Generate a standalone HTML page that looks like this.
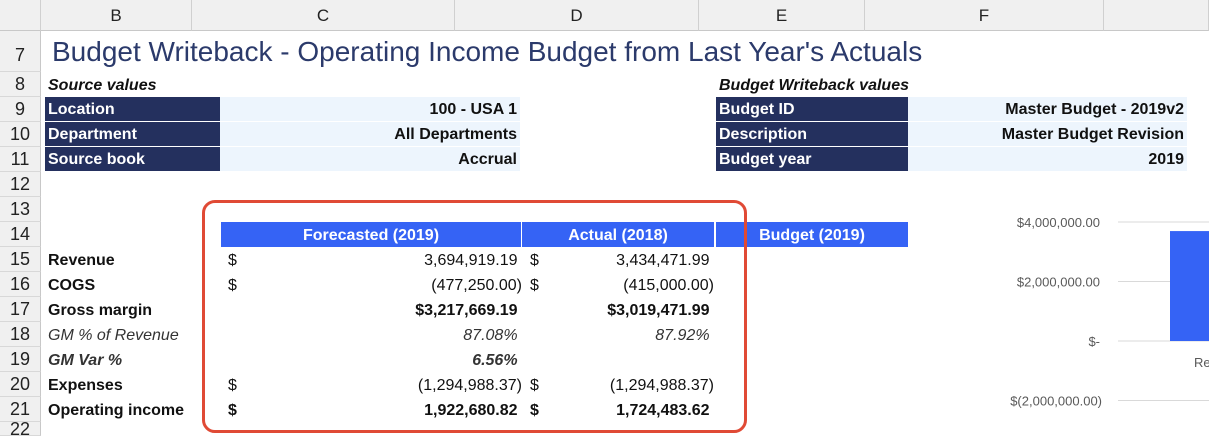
<!DOCTYPE html>
<html><head><meta charset="utf-8"><style>
body{margin:0;width:1209px;height:436px;overflow:hidden;background:#fff;font-family:"Liberation Sans",sans-serif;position:relative}
div,span{position:absolute;box-sizing:border-box}
.colh{top:0;height:31px;background:#f0f0f0;border-right:1px solid #d0d0d0;border-bottom:1px solid #c8c8c8;text-align:center;font-size:17px;line-height:31px;color:#222}
.rowh{left:0;width:41px;background:#f0f0f0;border-bottom:1px solid #d8d8d8;border-right:1px solid #c8c8c8;text-align:center;font-size:18px;color:#222}
.t{font-size:16px;color:#111;white-space:nowrap;line-height:28px;height:25px;overflow:visible}
.b{font-weight:bold}
.nav{background:#24305e;color:#fff;font-weight:bold;padding-left:3px;line-height:25px}
.lb{background:#edf5fd;font-weight:bold;text-align:right;padding-right:3px;line-height:25px}
.r{text-align:right}
.hd{background:#3563f5;color:#fff;font-weight:bold;text-align:center;font-size:16px;line-height:27px;height:25px;top:222px}
</style></head><body>
<div class="colh" style="left:0;width:41px"></div>
<div class="colh" style="left:41px;width:151px">B</div>
<div class="colh" style="left:192px;width:263px">C</div>
<div class="colh" style="left:455px;width:244px">D</div>
<div class="colh" style="left:699px;width:166px">E</div>
<div class="colh" style="left:865px;width:239px">F</div>
<div class="colh" style="left:1104px;width:105px"></div>
<div id="rows"></div>
<div style="left:52px;top:36px;font-size:28px;color:#2b3a6b;white-space:nowrap">Budget Writeback - Operating Income Budget from Last Year's Actuals</div>
<div class="t b" style="left:48px;top:72px;font-style:italic">Source values</div>
<div class="t b" style="left:719px;top:72px;font-style:italic">Budget Writeback values</div>

<div class="t nav" style="left:45px;top:97px;width:175px;height:24px">Location</div>
<div class="t lb" style="left:220px;top:97px;width:300px;height:24px">100 - USA 1</div>
<div class="t nav" style="left:45px;top:122px;width:175px;height:24px">Department</div>
<div class="t lb" style="left:220px;top:122px;width:300px;height:24px">All Departments</div>
<div class="t nav" style="left:45px;top:147px;width:175px;height:24px">Source book</div>
<div class="t lb" style="left:220px;top:147px;width:300px;height:24px">Accrual</div>

<div class="t nav" style="left:716px;top:97px;width:192px;height:24px">Budget ID</div>
<div class="t lb" style="left:908px;top:97px;width:279px;height:24px">Master Budget - 2019v2</div>
<div class="t nav" style="left:716px;top:122px;width:192px;height:24px">Description</div>
<div class="t lb" style="left:908px;top:122px;width:279px;height:24px">Master Budget Revision</div>
<div class="t nav" style="left:716px;top:147px;width:192px;height:24px">Budget year</div>
<div class="t lb" style="left:908px;top:147px;width:279px;height:24px">2019</div>

<div class="hd" style="left:221px;width:300px">Forecasted (2019)</div>
<div class="hd" style="left:522px;width:192px">Actual (2018)</div>
<div class="hd" style="left:716px;width:192px">Budget (2019)</div>
<div id="tbl"></div>

<div style="left:202px;top:200px;width:545px;height:233px;border:3px solid #e04a35;border-radius:13px"></div>

<svg id="chart" style="position:absolute;left:920px;top:190px" width="289" height="246"></svg>

<script>
var rowNums=[7,8,9,10,11,12,13,14,15,16,17,18,19,20,21,22];
var rowTops=[31,72,97,122,147,172,197,222,247,272,297,322,347,372,397,422];
var rows=document.getElementById('rows');
rowNums.forEach(function(n,i){
  var d=document.createElement('div');
  
  
  d.className='rowh';
  var h=(i<rowNums.length-1?rowTops[i+1]:436)-rowTops[i];
  d.style.top=rowTops[i]+'px';d.style.height=h+'px';
  d.style.lineHeight=(i==0?h+8:h)+'px';
  d.textContent=n;rows.appendChild(d);
});
var tbl=[
 ["Revenue","b","$","3,694,919.19 ","$","3,434,471.99 ",""],
 ["COGS","b","$","(477,250.00)","$","(415,000.00)",""],
 ["Gross margin","b","","$3,217,669.19 ","","$3,019,471.99 ","b"],
 ["GM % of Revenue","i","","87.08% ","","87.92% ","i"],
 ["GM Var %","bi","","6.56% ","","","bi"],
 ["Expenses","b","$","(1,294,988.37)","$","(1,294,988.37)",""],
 ["Operating income","b","$","1,922,680.82 ","$","1,724,483.62 ","b"]
];
var T=document.getElementById('tbl');
tbl.forEach(function(r,i){
  var top=247+i*25;
  function cell(txt,left,w,cls,st,name){
    var d=document.createElement('div');
    
    
    d.className='t '+cls;d.style.left=left+'px';d.style.top=top+'px';if(w)d.style.width=w+'px';
    if(st.indexOf('b')>=0)d.style.fontWeight='bold';
    if(st.indexOf('i')>=0){d.style.fontStyle='italic';d.style.color='#333';}
    d.style.whiteSpace='pre';
    d.textContent=txt;T.appendChild(d);
  }
  var lst=r[1]=='i'?'i':r[1];
  cell(r[0],48,175,'',lst,'row-label-'+i);
  var vs=r[6]; if(i==6)vs='b';
  if(r[2])cell(r[2],228,0,'',vs,'forecast-currency-'+i);
  cell(r[3],230,292,'r',vs,'forecast-value-'+i);
  if(r[4])cell(r[4],530,0,'',vs,'actual-currency-'+i);
  cell(r[5],530,184,'r',vs,'actual-value-'+i);
});

// chart
var categories=["Revenue","COGS","Gross margin","Expenses","Operating income"];
var seriesValues=[3694919.19,-477250,3217669.19,-1294988.37,1922680.82];
var tickValues=[4000000,2000000,0,-2000000];
var tickLabels=["$4,000,000.00","$2,000,000.00","$-","$(2,000,000.00)"];
var svg=document.getElementById('chart'),NS='http://www.w3.org/2000/svg';
function y(v){return 151-v/2000000*59.5;}
var plotX=198,band=120;
function x(i){return plotX+i*band;}
tickValues.forEach(function(v,i){
  var l=document.createElementNS(NS,'line');
  
  
  l.setAttribute('x1',plotX);l.setAttribute('x2',289);l.setAttribute('y1',y(v));l.setAttribute('y2',y(v));
  l.setAttribute('stroke','#d9d9d9');l.setAttribute('stroke-width','1');svg.appendChild(l);
  var t=document.createElementNS(NS,'text');
  
  
  t.setAttribute('x',v<0?182:180);t.setAttribute('y',y(v)+5);t.setAttribute('text-anchor','end');
  t.setAttribute('font-size','13');t.setAttribute('fill','#595959');t.setAttribute('font-family','Liberation Sans, sans-serif');
  t.textContent=tickLabels[i];svg.appendChild(t);
});
categories.forEach(function(c,i){
  var v=seriesValues[i];
  var r=document.createElementNS(NS,'rect');
  
  
  r.setAttribute('x',x(i)+52);r.setAttribute('width',70);
  r.setAttribute('y',Math.min(y(v),y(0)));r.setAttribute('height',Math.abs(y(v)-y(0)));
  r.setAttribute('fill','#3563f5');svg.appendChild(r);
  var t=document.createElementNS(NS,'text');
  
  
  t.setAttribute('x',x(i)+76);t.setAttribute('y',y(0)+26);
  t.setAttribute('font-size','13');t.setAttribute('fill','#595959');t.setAttribute('font-family','Liberation Sans, sans-serif');
  t.textContent=c;svg.appendChild(t);
});
</script>
</body></html>
